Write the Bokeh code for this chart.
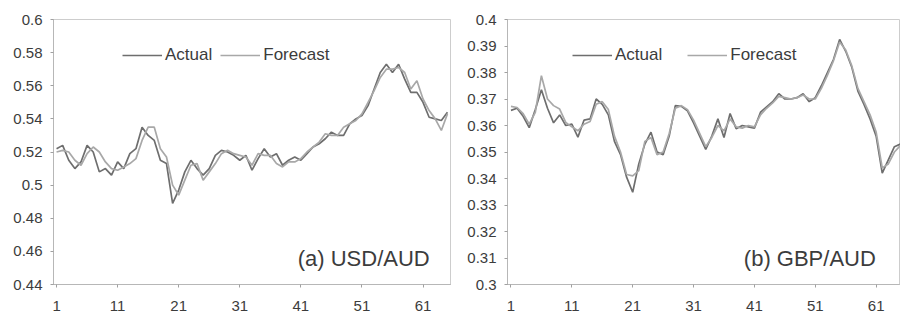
from bokeh.plotting import figure
from bokeh.layouts import row
from bokeh.models import Range1d, FixedTicker, Legend, LegendItem, Label
from bokeh.embed import file_html
from bokeh.resources import INLINE

# Observation index shared by both panels
period = list(range(1, 66))

# USD/AUD exchange rate: actual vs forecast
usd_actual = [0.522, 0.524, 0.515, 0.510, 0.514, 0.524, 0.520, 0.508, 0.510, 0.506,
              0.514, 0.510, 0.519, 0.522, 0.535, 0.530, 0.527, 0.515, 0.513, 0.489,
              0.497, 0.508, 0.515, 0.510, 0.506, 0.510, 0.518, 0.521, 0.520, 0.518,
              0.515, 0.518, 0.509, 0.516, 0.522, 0.517, 0.519, 0.512, 0.515, 0.517,
              0.515, 0.519, 0.523, 0.525, 0.528, 0.532, 0.530, 0.530, 0.537, 0.540,
              0.542, 0.548, 0.558, 0.568, 0.573, 0.568, 0.573, 0.564, 0.556, 0.556,
              0.550, 0.541, 0.540, 0.539, 0.544]
usd_forecast = [0.520, 0.521, 0.520, 0.515, 0.512, 0.519, 0.523, 0.520, 0.514, 0.510,
                0.509, 0.511, 0.513, 0.516, 0.527, 0.535, 0.535, 0.522, 0.517, 0.500,
                0.494, 0.503, 0.512, 0.513, 0.503, 0.508, 0.513, 0.519, 0.521, 0.519,
                0.518, 0.517, 0.512, 0.519, 0.518, 0.518, 0.513, 0.511, 0.514, 0.514,
                0.516, 0.520, 0.523, 0.526, 0.531, 0.530, 0.530, 0.535, 0.537, 0.539,
                0.543, 0.550, 0.557, 0.565, 0.570, 0.570, 0.571, 0.568, 0.558, 0.563,
                0.552, 0.545, 0.540, 0.533, 0.543]

# GBP/AUD exchange rate: actual vs forecast
gbp_actual = [0.3657, 0.3665, 0.3635, 0.3592, 0.3660, 0.3735, 0.3665, 0.3610, 0.3640, 0.3600,
              0.3605, 0.3556, 0.3620, 0.3625, 0.3700, 0.3680, 0.3640, 0.3540, 0.3490, 0.3405,
              0.3348, 0.3455, 0.3530, 0.3575, 0.3500, 0.3490, 0.3560, 0.3675, 0.3672, 0.3655,
              0.3610, 0.3560, 0.3510, 0.3560, 0.3625, 0.3555, 0.3645, 0.3588, 0.3600, 0.3595,
              0.3590, 0.3650, 0.3670, 0.3690, 0.3720, 0.3700, 0.3700, 0.3705, 0.3720, 0.3690,
              0.3705, 0.3750, 0.3800, 0.3850, 0.3925, 0.3880, 0.3820, 0.3730, 0.3680, 0.3625,
              0.3560, 0.3420, 0.3470, 0.3520, 0.3530]
gbp_forecast = [0.3672, 0.3668, 0.3645, 0.3605, 0.3650, 0.3788, 0.3700, 0.3675, 0.3662, 0.3612,
                0.3595, 0.3580, 0.3605, 0.3615, 0.3680, 0.3690, 0.3660, 0.3560, 0.3500, 0.3415,
                0.3410, 0.3430, 0.3540, 0.3555, 0.3490, 0.3500, 0.3570, 0.3665, 0.3675, 0.3660,
                0.3620, 0.3570, 0.3520, 0.3555, 0.3600, 0.3580, 0.3625, 0.3595, 0.3590, 0.3600,
                0.3595, 0.3640, 0.3665, 0.3685, 0.3710, 0.3705, 0.3700, 0.3705, 0.3715, 0.3700,
                0.3700, 0.3740, 0.3790, 0.3845, 0.3915, 0.3885, 0.3825, 0.3740, 0.3690, 0.3640,
                0.3575, 0.3440, 0.3455, 0.3500, 0.3525]

# Axis ticks and their labels
x_ticks = [1, 11, 21, 31, 41, 51, 61]
usd_ticks = [0.44, 0.46, 0.48, 0.50, 0.52, 0.54, 0.56, 0.58, 0.60]
usd_tick_labels = ["0.44", "0.46", "0.48", "0.5", "0.52", "0.54", "0.56", "0.58", "0.6"]
gbp_ticks = [0.30, 0.31, 0.32, 0.33, 0.34, 0.35, 0.36, 0.37, 0.38, 0.39, 0.40]
gbp_tick_labels = ["0.3", "0.31", "0.32", "0.33", "0.34", "0.35", "0.36", "0.37", "0.38", "0.39", "0.4"]

FONT = "Liberation Sans"
TEXT = "#3c3c3c"
ACTUAL_COLOR = "#6e6e6e"
FORECAST_COLOR = "#a8a8a8"


def panel(width, x_range, y_range, y_ticks, y_labels, border_left, border_top, border_right):
    p = figure(width=width, height=320, output_backend="svg", toolbar_location=None,
               x_range=Range1d(*x_range), y_range=Range1d(*y_range),
               min_border_left=border_left, min_border_right=border_right,
               min_border_top=border_top, min_border_bottom=36)
    p.background_fill_color = "white"
    p.border_fill_color = "white"
    p.outline_line_color = "#cdcdcd"
    p.xgrid.visible = False
    p.ygrid.visible = False

    p.xaxis.ticker = FixedTicker(ticks=x_ticks)
    p.yaxis.ticker = FixedTicker(ticks=y_ticks)
    p.yaxis.major_label_overrides = {t: s for t, s in zip(y_ticks, y_labels)}
    for ax in (p.xaxis, p.yaxis):
        ax.axis_line_color = "#a0a0a0"
        ax.axis_line_dash = "1 1"
        ax.major_tick_line_color = "#a0a0a0"
        ax.major_tick_in = 0
        ax.major_tick_out = 3
        ax.minor_tick_line_color = None
        ax.major_label_text_font = FONT
        ax.major_label_text_font_size = "15px"
        ax.major_label_text_color = TEXT
    p.yaxis.major_label_standoff = 8
    p.xaxis.major_label_standoff = 13
    return p


def add_series(p, actual, forecast, loc, spacing):
    r_a = p.line(period, actual, line_color=ACTUAL_COLOR, line_width=1.7)
    r_f = p.line(period, forecast, line_color=FORECAST_COLOR, line_width=1.7)
    legend = Legend(items=[LegendItem(label="Actual", renderers=[r_a]),
                           LegendItem(label="Forecast", renderers=[r_f])],
                    orientation="horizontal", location=loc,
                    border_line_color=None, background_fill_alpha=0,
                    padding=0, margin=0, spacing=spacing,
                    glyph_width=40, glyph_height=20, label_height=20,
                    label_standoff=3,
                    label_text_font=FONT, label_text_font_size="17px",
                    label_text_color=TEXT)
    p.add_layout(legend)


left = panel(453, (0.5, 65.5), (0.44, 0.60), usd_ticks, usd_tick_labels, 53, 15, 3)
add_series(left, usd_actual, usd_forecast, (69, 219), 8)
left.add_layout(Label(x=62.1, y=0.4554, text="(a) USD/AUD", text_align="right",
                      text_baseline="alphabetic", text_font=FONT,
                      text_font_size="22px", text_color=TEXT))

right = panel(447, (0.43, 65.0), (0.30, 0.40), gbp_ticks, gbp_tick_labels, 54, 19, 0)
add_series(right, gbp_actual, gbp_forecast, (65, 219), 25)
right.add_layout(Label(x=60.95, y=0.3098, text="(b) GBP/AUD", text_align="right",
                       text_baseline="alphabetic", text_font=FONT,
                       text_font_size="22px", text_color=TEXT))

layout = row(left, right, spacing=0)
open("out.html", "w").write(file_html(layout, INLINE))
